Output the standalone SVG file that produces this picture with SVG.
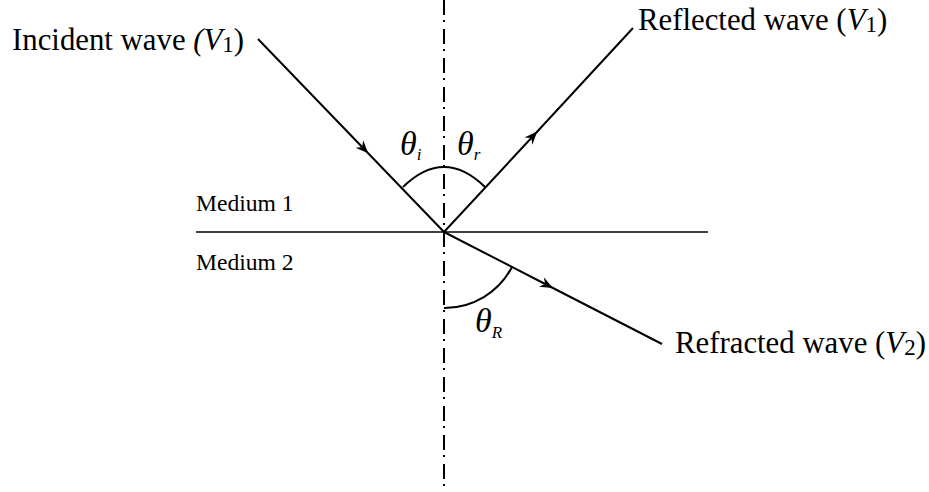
<svg xmlns="http://www.w3.org/2000/svg" width="929" height="492" viewBox="0 0 929 492">
<style>
.t{font-family:"Liberation Serif","Times New Roman",serif;fill:#000}
.big{font-size:30.8px}
.med{font-size:23.6px}
.it{font-style:italic}
.ray{stroke:#000;stroke-width:2;fill:none}
.arc{stroke:#000;stroke-width:2;fill:none}
</style>
<defs>
<marker id="ah" viewBox="0 0 12 10" refX="9" refY="5" markerWidth="13" markerHeight="11" markerUnits="userSpaceOnUse" orient="auto">
<path d="M0,0 L12,5 L0,10 L4,5 Z" fill="#000"/>
</marker>
</defs>
<g id="axes">
<line x1="444" y1="0" x2="444" y2="492" stroke="#000" stroke-width="2" stroke-dasharray="15 5 2 7"/>
<line x1="196" y1="232" x2="708" y2="232" stroke="#000" stroke-width="1.6"/>
</g>
<g id="connectors">
<path class="ray" d="M258,39 L366,151 L444,232" marker-mid="url(#ah)"/>
<path class="ray" d="M444,232 L535,134 L633,28" marker-mid="url(#ah)"/>
<path class="ray" d="M444,232 L550,286.5 L662,344" marker-mid="url(#ah)"/>
</g>
<g id="angles">
<path class="arc" d="M403,187 Q444,147 485,187"/>
<path class="arc" d="M444,308 A76 76 0 0 0 512,267"/>
<text class="t it" x="400" y="155" font-size="34">θ<tspan font-size="17" dy="5">i</tspan></text>
<text class="t it" x="457" y="155" font-size="34">θ<tspan font-size="17" dy="5">r</tspan></text>
<text class="t it" x="475" y="332" font-size="34">θ<tspan font-size="17" dy="6">R</tspan></text>
</g>
<g id="incident">
<text class="t big" x="12" y="50">Incident wave <tspan class="it">(V</tspan><tspan font-size="23" dy="2">1</tspan><tspan dy="-2">)</tspan></text>
</g>
<g id="reflected">
<text class="t big" x="638" y="30">Reflected wave (<tspan class="it">V</tspan><tspan font-size="23" dy="2">1</tspan><tspan dy="-2">)</tspan></text>
</g>
<g id="refracted">
<text class="t big" x="675" y="353">Refracted wave (<tspan class="it">V</tspan><tspan font-size="23" dy="2">2</tspan><tspan dy="-2">)</tspan></text>
</g>
<g id="medium1"><text class="t med" x="196" y="211">Medium 1</text></g>
<g id="medium2"><text class="t med" x="196" y="270">Medium 2</text></g>
</svg>
